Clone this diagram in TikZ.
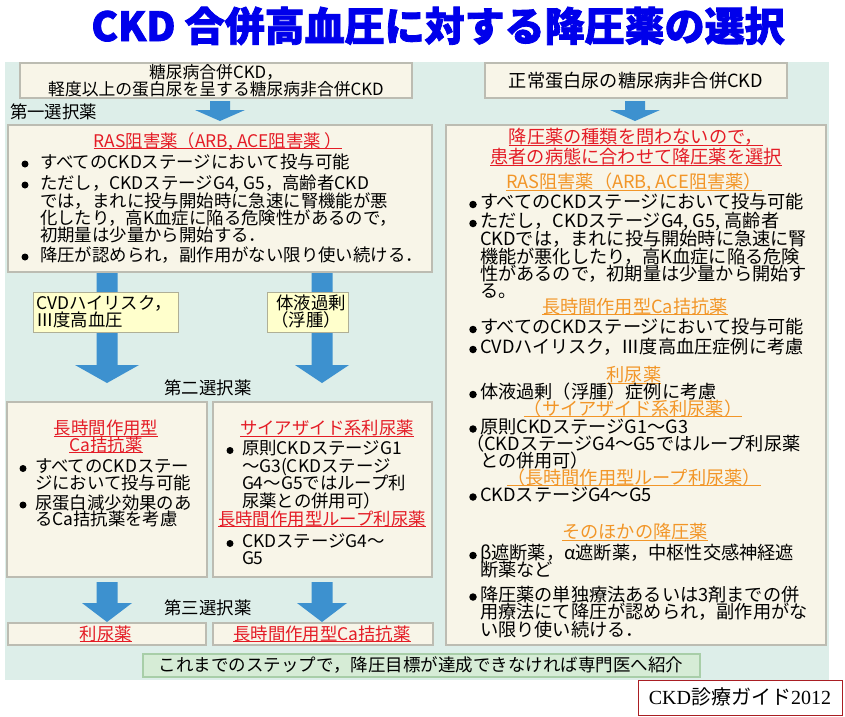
\documentclass[tikz,border=0pt]{standalone}
\usepackage{fontspec}
\setmainfont{Noto Sans CJK JP}
\newfontfamily\titlefont[BoldFeatures={FakeBold=2}]{Noto Sans CJK JP}
\newfontfamily\serifjp{Liberation Serif}
\newcommand\fs[1]{\fontsize{#1}{#1}\selectfont}
\newsavebox\ulb
\newcommand\ul[1]{\sbox\ulb{#1}\usebox\ulb\llap{\rule[-2.4pt]{\wd\ulb}{1pt}}}
\definecolor{bgmint}{RGB}{221,238,233}
\definecolor{creamfill}{RGB}{248,245,232}
\definecolor{boxline}{RGB}{188,188,178}
\definecolor{labfill}{RGB}{255,255,204}
\definecolor{labline}{RGB}{175,175,150}
\definecolor{greenfill}{RGB}{214,236,214}
\definecolor{greenline}{RGB}{168,206,168}
\definecolor{arrowblue}{RGB}{61,145,207}
\definecolor{hred}{RGB}{228,28,38}
\definecolor{horange}{RGB}{242,150,40}
\definecolor{titleblue}{RGB}{0,0,235}
\definecolor{guidered}{RGB}{170,30,35}
\newcommand\bx[6]{\node[#6, anchor=north west, minimum width=#4pt, minimum height=#5pt] (#1) at (#2,#3) {};}
\newcommand\barrow[7]{\fill[arrowblue] ({#1-#5},#2) -- ({#1+#5},#2) -- ({#1+#5},#3) -- ({#1+#6},#3) -- (#1,#4) -- ({#1-#6},#3) -- ({#1-#5},#3) -- cycle;}
\begin{document}
\begin{tikzpicture}[x=1pt,y=-1pt,
  txt/.style={inner sep=0pt, outer sep=0pt, font=\fs{17.4}},
  txtT/.style={inner sep=0pt, outer sep=0pt, font=\fs{16.8}},
  txtR/.style={inner sep=0pt, outer sep=0pt, font=\fs{18.2}},
  cream/.style={draw=boxline, fill=creamfill, line width=1.2pt, inner sep=0pt, outer sep=0pt},
  lab/.style={draw=labline, fill=labfill, line width=1pt, inner sep=0pt, outer sep=0pt},
  panel/.style={fill=bgmint, inner sep=0pt, outer sep=0pt},
  greenbox/.style={draw=greenline, fill=greenfill, line width=1.2pt, inner sep=0pt, outer sep=0pt},
  guidebox/.style={draw=guidered, fill=white, line width=1pt, inner sep=0pt, outer sep=0pt},
  bul/.style={circle, fill=black, inner sep=0pt, outer sep=0pt, minimum size=7pt},
  bulR/.style={circle, fill=black, inner sep=0pt, outer sep=0pt, minimum size=7.5pt}]
\useasboundingbox (0,0) rectangle (845,716);
\fill[white] (0,0) rectangle (845,716);
% title
\node[inner sep=0pt, anchor=base, text=titleblue, font=\titlefont\bfseries\fs{40}] (title) at (438,41) {CKD 合併高血圧に対する降圧薬の選択};
% panel and boxes
\bx{panel}{5}{62}{824}{618}{panel}
\bx{topL}{20}{63}{392}{35}{cream}
\bx{topR}{485}{63}{302}{35}{cream}
\bx{rasL}{8}{125}{424}{147}{cream}
\bx{bigR}{446}{125}{380}{520}{cream}
\bx{ca2}{7}{402}{200}{175}{cream}
\bx{thz2}{213}{402}{219}{175}{cream}
\bx{diu3}{8}{623}{198}{22}{cream}
\bx{ca3}{213}{623}{220}{22}{cream}
\bx{final}{143}{654}{557}{23}{greenbox}
\bx{guide}{638}{680}{204}{35}{guidebox}
% arrows
\barrow{220}{101}{110}{121}{10}{25}{}
\barrow{635}{101}{110}{121}{10}{25}{}
\barrow{107}{273}{365}{383}{10.5}{32}{}
\barrow{322}{273}{365}{383}{10.5}{27}{}
\barrow{107}{582}{603}{622}{10.5}{25}{}
\barrow{322}{582}{603}{622}{10.5}{25}{}
% label boxes on arrows
\bx{lab1}{33}{292}{145}{40}{lab}
\bx{lab2}{267}{292}{81}{40}{lab}
% top boxes text
\node[txtT, anchor=base] (t1a) at (216,78) {糖尿病合併CKD，};
\node[txtT, anchor=base] (t1b) at (216,95) {軽度以上の蛋白尿を呈する糖尿病非合併CKD};
\node[txtR, anchor=base] (t2) at (636,87) {正常蛋白尿の糖尿病非合併CKD};
\node[txt, anchor=base west] (first) at (10,118) {第一選択薬};
% left RAS box
\node[txt, anchor=base, text=hred] (rash) at (218,147) {\ul{RAS阻害薬（ARB, ACE阻害薬 ）}};
\node[bul] (b1) at (25,164) {};
\node[txt, anchor=base west] (r1) at (40,168) {すべてのCKDステージにおいて投与可能};
\node[bul] (b2) at (25,185) {};
\node[txt, anchor=base west] (r2a) at (40,189) {ただし，CKDステージG4, G5，高齢者CKD};
\node[txt, anchor=base west] (r2b) at (40,207) {では，まれに投与開始時に急速に腎機能が悪};
\node[txt, anchor=base west] (r2c) at (40,224) {化したり，高K血症に陥る危険性があるので，};
\node[txt, anchor=base west] (r2d) at (40,241) {初期量は少量から開始する．};
\node[bul] (b3) at (25,257) {};
\node[txt, anchor=base west] (r3) at (40,261) {降圧が認められ，副作用がない限り使い続ける．};
% label texts
\node[txt, anchor=base west] (l1a) at (36,309) {CVDハイリスク，};
\node[txt, anchor=base west] (l1b) at (36,326) {Ⅲ度高血圧};
\node[txt, anchor=base] (l2a) at (311,309) {体液過剰};
\node[txt, anchor=base] (l2b) at (306,326) {（浮腫）};
\node[txt, anchor=base] (second) at (208,394) {第二選択薬};
% second left box
\node[txt, anchor=base, text=hred] (cah1) at (106,434.5) {\ul{長時間作用型}};
\node[txt, anchor=base, text=hred] (cah2) at (106,451) {\ul{Ca拮抗薬}};
\node[bul] (b4) at (23,468.5) {};
\node[txt, anchor=base west] (c1a) at (35,472.5) {すべてのCKDステー};
\node[txt, anchor=base west] (c1b) at (35,489) {ジにおいて投与可能};
\node[bul] (b5) at (23,505) {};
\node[txt, anchor=base west] (c2a) at (35,509) {尿蛋白減少効果のあ};
\node[txt, anchor=base west] (c2b) at (35,525.5) {るCa拮抗薬を考慮};
% second right box
\node[txt, anchor=base, text=hred] (thh) at (327,434.5) {\ul{サイアザイド系利尿薬}};
\node[bul] (b6) at (230,450.5) {};
\node[txt, anchor=base west] (s1a) at (242,454.5) {原則CKDステージG1};
\node[txt, anchor=base west] (s1b) at (242,472) {～G3(CKDステージ};
\node[txt, anchor=base west] (s1c) at (242,489.5) {G4～G5ではループ利};
\node[txt, anchor=base west] (s1d) at (242,507) {尿薬との併用可）};
\node[txt, anchor=base, text=hred] (looph) at (322,525) {\ul{長時間作用型ループ利尿薬}};
\node[bul] (b7) at (230,543.5) {};
\node[txt, anchor=base west] (s2a) at (242,547.5) {CKDステージG4～};
\node[txt, anchor=base west] (s2b) at (242,564.5) {G5};
% third
\node[txt, anchor=base] (third) at (208,614) {第三選択薬};
\node[txt, anchor=base, text=hred] (diut) at (106,640) {\ul{利尿薬}};
\node[txt, anchor=base, text=hred] (ca3t) at (322,640) {\ul{長時間作用型Ca拮抗薬}};
% final
\node[inner sep=0pt, anchor=base, font=\fs{17.5}] (finalt) at (421,671.5) {これまでのステップで，降圧目標が達成できなければ専門医へ紹介};
\node[inner sep=0pt, anchor=base, font=\fs{20}] (guidet) at (740,704) {{\serifjp CKD}診療ガイド{\serifjp 2012}};
% right big box
\node[txtR, anchor=base, text=hred] (rh1) at (636,143.5) {\ul{降圧薬の種類を問わないので，}};
\node[txtR, anchor=base, text=hred] (rh2) at (636,163.5) {\ul{患者の病態に合わせて降圧薬を選択}};
\node[txtR, anchor=base, text=horange] (rh3) at (634,188.5) {\ul{RAS阻害薬（ARB, ACE阻害薬）}};
\node[bulR] (rb1) at (473,204.5) {};
\node[txtR, anchor=base west] (x1) at (480,208.5) {すべてのCKDステージにおいて投与可能};
\node[bulR] (rb2) at (473,223.5) {};
\node[txtR, anchor=base west] (x2a) at (480,227.5) {ただし，CKDステージG4, G5, 高齢者};
\node[txtR, anchor=base west] (x2b) at (480,245.5) {CKDでは，まれに投与開始時に急速に腎};
\node[txtR, anchor=base west] (x2c) at (480,263.5) {機能が悪化したり，高K血症に陥る危険};
\node[txtR, anchor=base west] (x2d) at (480,280.5) {性があるので，初期量は少量から開始す};
\node[txtR, anchor=base west] (x2e) at (480,297.5) {る。};
\node[txtR, anchor=base, text=horange] (rh4) at (635,313) {\ul{長時間作用型Ca拮抗薬}};
\node[bulR] (rb3) at (473,329.5) {};
\node[txtR, anchor=base west] (x3) at (480,333.5) {すべてのCKDステージにおいて投与可能};
\node[bulR] (rb4) at (473,349.5) {};
\node[txtR, anchor=base west] (x4) at (480,353.5) {CVDハイリスク，Ⅲ度高血圧症例に考慮};
\node[txtR, anchor=base, text=horange] (rh5) at (634,381.5) {\ul{利尿薬}};
\node[bulR] (rb5) at (473,394.5) {};
\node[txtR, anchor=base west] (x5) at (480,398.5) {体液過剰（浮腫）症例に考慮};
\node[txtR, anchor=base, text=horange] (rh6) at (633,415) {\ul{（サイアザイド系利尿薬）}};
\node[bulR] (rb6) at (473,429) {};
\node[txtR, anchor=base west] (x6a) at (480,433) {原則CKDステージG1～G3};
\node[txtR, anchor=base west] (x6b) at (466,450.5) {（CKDステージG4～G5ではループ利尿薬};
\node[txtR, anchor=base west] (x6c) at (480,467.5) {との併用可）};
\node[txtR, anchor=base, text=horange] (rh7) at (634,484) {\ul{（長時間作用型ループ利尿薬）}};
\node[bulR] (rb7) at (473,497) {};
\node[txtR, anchor=base west] (x7) at (480,501) {CKDステージG4～G5};
\node[txtR, anchor=base, text=horange] (rh8) at (635,538.5) {\ul{そのほかの降圧薬}};
\node[bulR] (rb8) at (473,555.5) {};
\node[txtR, anchor=base west] (x8a) at (480,559.5) {β遮断薬，α遮断薬，中枢性交感神経遮};
\node[txtR, anchor=base west] (x8b) at (480,576.5) {断薬など};
\node[bulR] (rb9) at (473,597) {};
\node[txtR, anchor=base west] (x9a) at (480,601) {降圧薬の単独療法あるいは3剤までの併};
\node[txtR, anchor=base west] (x9b) at (480,618.5) {用療法にて降圧が認められ，副作用がな};
\node[txtR, anchor=base west] (x9c) at (480,636) {い限り使い続ける．};
\end{tikzpicture}
\end{document}
